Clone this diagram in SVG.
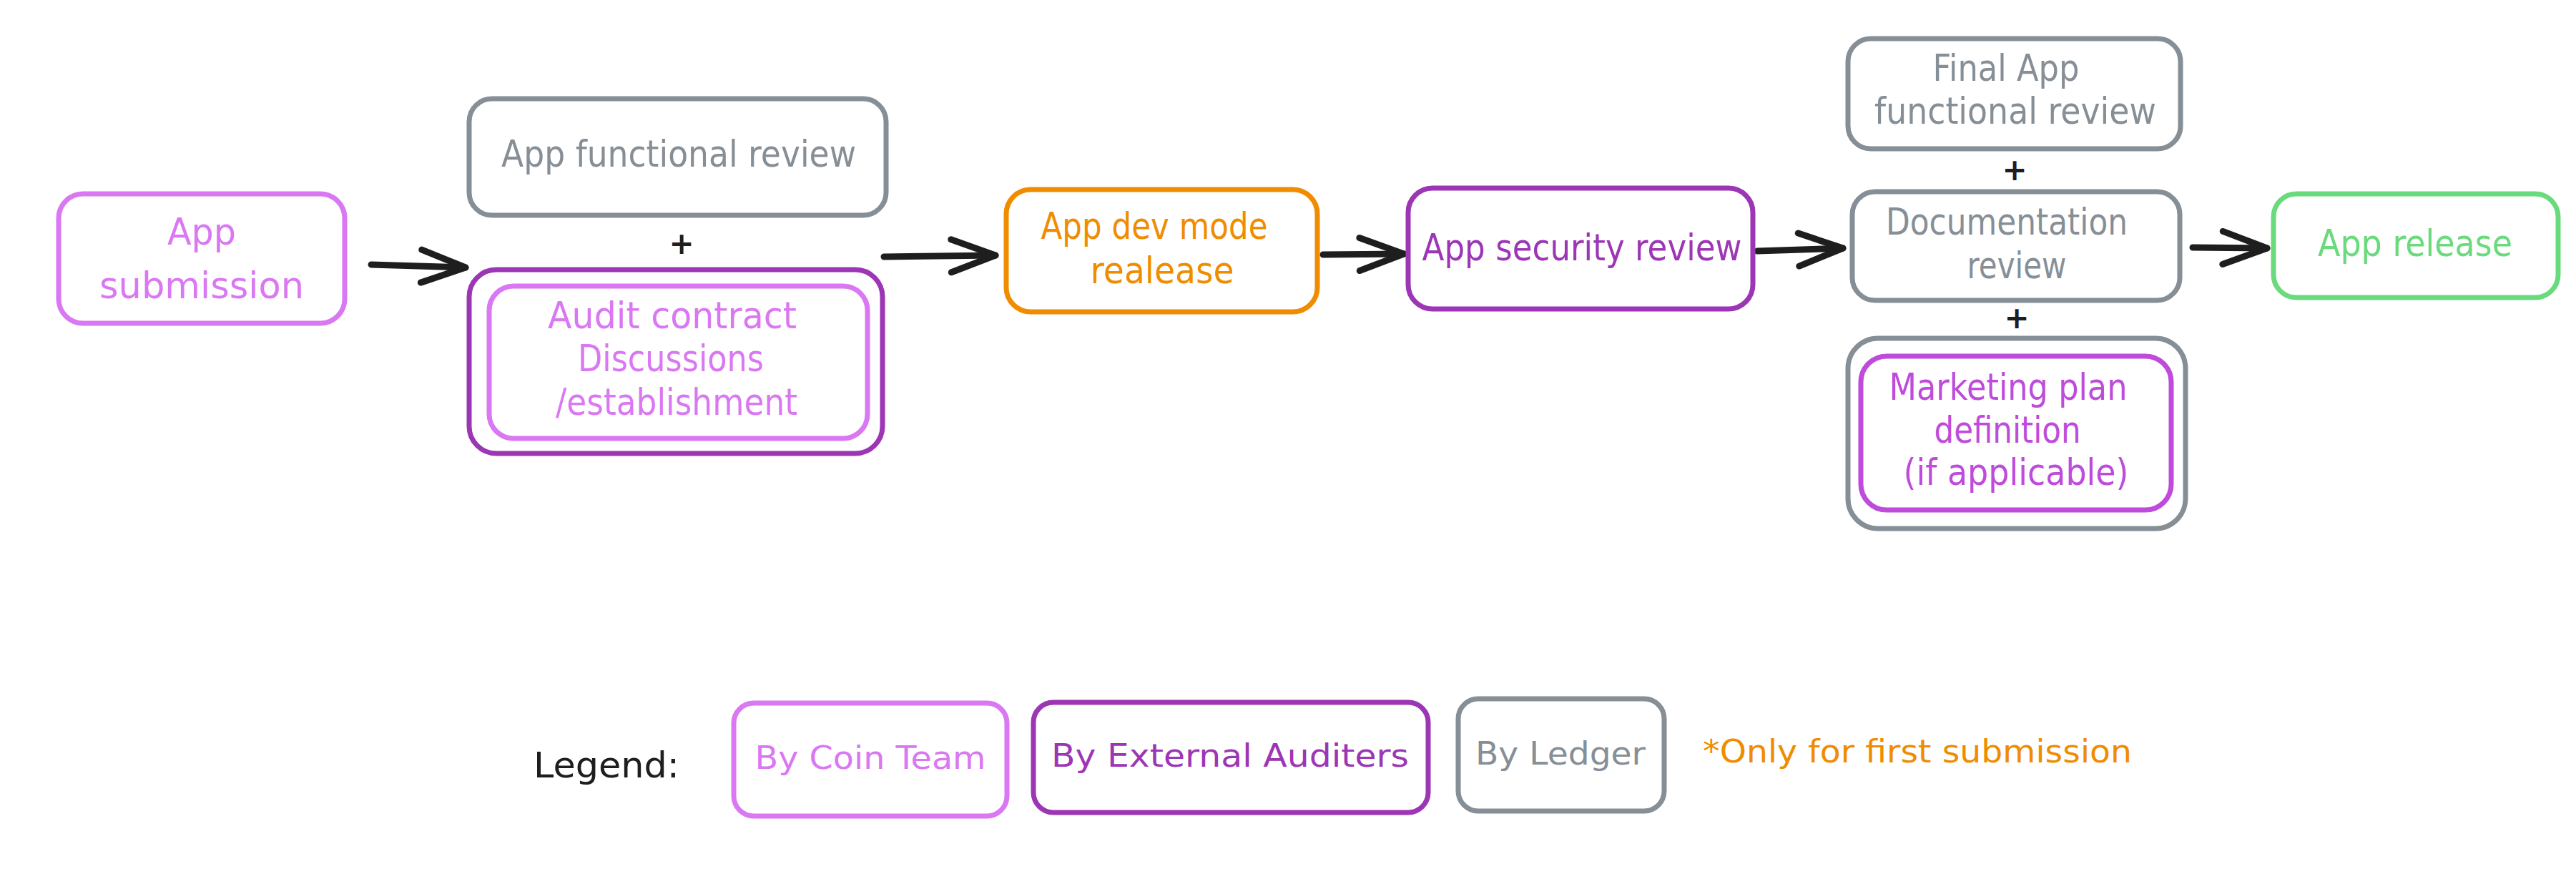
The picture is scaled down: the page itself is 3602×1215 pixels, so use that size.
<svg xmlns="http://www.w3.org/2000/svg" width="3602" height="1215" viewBox="0 0 3602 1215">
<style>
.box{fill:#ffffff;stroke-width:7;stroke-linejoin:round}
.pink{stroke:#da77f2}.purple{stroke:#9c36b5}.mag{stroke:#be4bdb}.gray{stroke:#868e96}.orange{stroke:#f08c00}.green{stroke:#69db7c}
.t{font-family:"DejaVu Sans","Liberation Sans",sans-serif;font-size:52px;text-anchor:middle}
.lt{font-family:"DejaVu Sans","Liberation Sans",sans-serif;font-size:44px;text-anchor:middle}
.plus{font-family:"DejaVu Sans",sans-serif;font-size:42px;font-weight:bold;text-anchor:middle;fill:#1e1e1e}
.fpink{fill:#da77f2}.fpurple{fill:#9c36b5}.fmag{fill:#be4bdb}.fgray{fill:#868e96}.forange{fill:#f08c00}.fgreen{fill:#69db7c}.fblack{fill:#1e1e1e}
.conn{fill:none;stroke:#1e1e1e;stroke-width:9;stroke-linecap:round}
</style>
<defs>
<marker id="ah" markerUnits="userSpaceOnUse" viewBox="-80 -40 90 80" markerWidth="90" markerHeight="80" refX="0" refY="0" orient="auto" overflow="visible">
<path d="M-62,-23 L0,0 L-62,23" fill="none" stroke="#1e1e1e" stroke-width="9" stroke-linecap="round" stroke-linejoin="round"/>
</marker>
</defs>
<rect width="3602" height="1215" fill="#ffffff"/>

<g id="connectors">
<path class="conn" d="M519,370 L651,374" marker-end="url(#ah)"/>
<path class="conn" d="M1236,359 L1392,357" marker-end="url(#ah)"/>
<path class="conn" d="M1850,356 L1963,355" marker-end="url(#ah)"/>
<path class="conn" d="M2457,351 L2577,347" marker-end="url(#ah)"/>
<path class="conn" d="M3066,346 L3170,347" marker-end="url(#ah)"/>
</g>

<g id="app-submission">
<rect class="box pink" x="82" y="271" width="400" height="181" rx="34"/>
<text class="t fpink" x="282" y="342" textLength="96" lengthAdjust="spacingAndGlyphs">App</text>
<text class="t fpink" x="282" y="417" textLength="286" lengthAdjust="spacingAndGlyphs">submission</text>
</g>

<g id="app-functional-review">
<rect class="box gray" x="656" y="138" width="583" height="163" rx="32"/>
<text class="t fgray" x="949" y="233" textLength="496" lengthAdjust="spacingAndGlyphs">App functional review</text>
</g>

<g id="plus-1"><text class="plus" x="953" y="355">+</text></g>

<g id="audit-contract">
<rect class="box purple" x="656" y="377" width="578" height="257" rx="38"/>
<rect class="box pink" x="684" y="400" width="529" height="213" rx="34"/>
<text class="t fpink" x="940" y="459" textLength="348" lengthAdjust="spacingAndGlyphs">Audit contract</text>
<text class="t fpink" x="938" y="519" textLength="260" lengthAdjust="spacingAndGlyphs">Discussions</text>
<text class="t fpink" x="946" y="580" textLength="338" lengthAdjust="spacingAndGlyphs">/establishment</text>
</g>

<g id="app-dev-mode-release">
<rect class="box orange" x="1407" y="265" width="435" height="171" rx="34"/>
<text class="t forange" x="1614" y="334" textLength="317" lengthAdjust="spacingAndGlyphs">App dev mode</text>
<text class="t forange" x="1625" y="396" textLength="201" lengthAdjust="spacingAndGlyphs">realease</text>
</g>

<g id="app-security-review">
<rect class="box purple" x="1969" y="263" width="482" height="169" rx="34"/>
<text class="t fpurple" x="2212" y="364" textLength="447" lengthAdjust="spacingAndGlyphs">App security review</text>
</g>

<g id="final-app-functional-review">
<rect class="box gray" x="2584" y="54" width="465" height="154" rx="32"/>
<text class="t fgray" x="2805" y="113" textLength="205" lengthAdjust="spacingAndGlyphs">Final App</text>
<text class="t fgray" x="2818" y="173" textLength="394" lengthAdjust="spacingAndGlyphs">functional review</text>
</g>

<g id="plus-2"><text class="plus" x="2817" y="252">+</text></g>

<g id="documentation-review">
<rect class="box gray" x="2590" y="268" width="458" height="152" rx="32"/>
<text class="t fgray" x="2806" y="328" textLength="338" lengthAdjust="spacingAndGlyphs">Documentation</text>
<text class="t fgray" x="2820" y="389" textLength="139" lengthAdjust="spacingAndGlyphs">review</text>
</g>

<g id="plus-3"><text class="plus" x="2820" y="459">+</text></g>

<g id="marketing-plan">
<rect class="box gray" x="2584" y="473" width="472" height="266" rx="42"/>
<rect class="box mag" x="2602" y="498" width="434" height="215" rx="36"/>
<text class="t fmag" x="2808" y="559" textLength="333" lengthAdjust="spacingAndGlyphs">Marketing plan</text>
<text class="t fmag" x="2807" y="619" textLength="205" lengthAdjust="spacingAndGlyphs">definition</text>
<text class="t fmag" x="2819" y="678" textLength="315" lengthAdjust="spacingAndGlyphs">(if applicable)</text>
</g>

<g id="app-release">
<rect class="box green" x="3179" y="271" width="398" height="145" rx="32"/>
<text class="t fgreen" x="3377" y="358" textLength="272" lengthAdjust="spacingAndGlyphs">App release</text>
</g>

<g id="legend">
<text class="fblack" x="746" y="1087" font-family="DejaVu Sans, sans-serif" font-size="50" textLength="204" lengthAdjust="spacingAndGlyphs">Legend:</text>
</g>

<g id="legend-coin-team">
<rect class="box pink" x="1026" y="983" width="382" height="158" rx="28"/>
<text class="lt fpink" x="1217" y="1075" textLength="323" lengthAdjust="spacingAndGlyphs">By Coin Team</text>
</g>

<g id="legend-external-auditers">
<rect class="box purple" x="1445" y="982" width="552" height="154" rx="28"/>
<text class="lt fpurple" x="1720" y="1072" textLength="500" lengthAdjust="spacingAndGlyphs">By External Auditers</text>
</g>

<g id="legend-ledger">
<rect class="box gray" x="2039" y="977" width="288" height="157" rx="28"/>
<text class="lt fgray" x="2182" y="1069" textLength="238" lengthAdjust="spacingAndGlyphs">By Ledger</text>
</g>

<g id="legend-note">
<text class="forange" x="2381" y="1066" font-family="DejaVu Sans, sans-serif" font-size="44" textLength="600" lengthAdjust="spacingAndGlyphs">*Only for first submission</text>
</g>
</svg>
